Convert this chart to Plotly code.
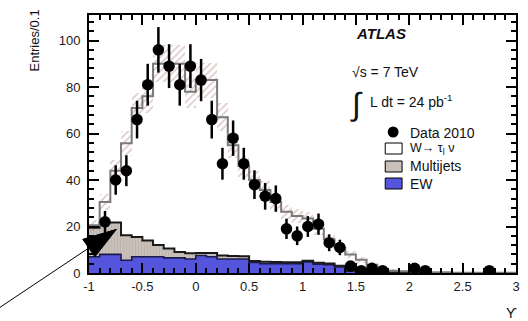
import numpy as np
import plotly.graph_objects as go

# ---- histogram content, 0.1-wide bins from -1 to 3 ----
bin_lo, bin_hi, bin_w = -1.0, 3.0, 0.1
edges = np.round(np.arange(bin_lo, bin_hi + 1e-9, bin_w), 2)
centers = np.round(edges[:-1] + bin_w / 2, 3)

ew = [7, 8, 8, 5.5, 7, 7, 7, 6.5, 6.5, 6, 7.5, 7, 6, 6, 6, 4.5, 4, 4, 4, 4,
      4.8, 3.8, 3.6, 2.6, 0.8, 0.3, 0.2, 0.1, 0, 0, 0, 0, 0, 0, 0, 0, 0, 0, 0, 0]
multijets = [12.5, 13.7, 13.7, 10.7, 8.5, 7, 5, 4, 2.5, 2.5, 1.1, 1.6, 1.5, 1.3, 1.2,
             0.7, 0.8, 0.7, 0.6, 0.6, 0.5, 0.6, 0.5, 0.5, 0.5, 0.5, 0.4, 0.3, 0.3, 0.2,
             0.2, 0.1, 0.1, 0.1, 0, 0, 0, 0, 0, 0]
w_taunu = [1.0, 8.8, 22.3, 39.6, 55.5, 62, 78, 79.5, 81, 69.5, 74.4, 74.4, 59.5, 47.7,
           38.8, 34.8, 30.9, 25.8, 21.8, 19.9, 18.2, 14.6, 10.4, 7.9, 6.7, 4.9, 3.0, 1.1,
           0.7, 0.5, 0.3, 0.2, 0.1, 0.1, 0.1, 0.1, 0.1, 0.1, 0.1, 0.1]
# half-width of the systematic band around the total prediction
band_half = [2.5, 3.5, 4.5, 5.5, 6.5, 7, 8, 8, 8, 7, 7.5, 7.5, 6, 5.5, 4.5, 4, 3.8, 3.5,
             3, 3, 2.8, 2.5, 2.2, 2, 1.6, 1.3, 1.1, 0.8, 0.6, 0.5, 0.4, 0.3, 0.2, 0.2,
             0.2, 0.2, 0.2, 0.2, 0.2, 0.2]

# ---- data 2010 ----
data_x = [-0.85, -0.75, -0.65, -0.55, -0.45, -0.35, -0.25, -0.15, -0.05, 0.05, 0.15,
          0.25, 0.35, 0.45, 0.55, 0.65, 0.75, 0.85, 0.95, 1.05, 1.15, 1.25, 1.35,
          1.45, 1.55, 1.65, 1.75, 2.05, 2.15, 2.75]
data_y = [22, 40, 44, 66, 81, 96, 89, 81, 89, 83, 66, 47, 58, 47, 38, 33, 32, 19, 16,
          20, 21, 13, 11, 3, 1, 2, 1, 2, 1, 1]

x_ticks = [-1, -0.5, 0, 0.5, 1, 1.5, 2, 2.5, 3]
x_ticktext = ["-1", "-0.5", "0", "0.5", "1", "1.5", "2", "2.5", "3"]
y_ticks = [0, 20, 40, 60, 80, 100]

EW_COLOR = "#5454dc"
MJ_COLOR = "#c9c1b9"
FONT = "Liberation Sans, Arial, sans-serif"

ew_a = np.array(ew, float)
mj_a = np.array(multijets, float)
w_a = np.array(w_taunu, float)
stack_mj = ew_a + mj_a
stack_tot = stack_mj + w_a
band = np.array(band_half, float)


def step(vals):
    v = list(vals)
    return list(edges), v + [v[-1]]


fig = go.Figure()

fig.add_trace(go.Bar(x=centers, y=ew_a, width=bin_w, marker=dict(color=EW_COLOR, line_width=0),
                     showlegend=False))
fig.add_trace(go.Bar(x=centers, y=mj_a, base=ew_a, width=bin_w,
                     marker=dict(color=MJ_COLOR, line_width=0,
                                 pattern=dict(shape="|", fgcolor="#b3aba3", bgcolor=MJ_COLOR,
                                              size=3, solidity=0.3)),
                     showlegend=False))

sx, sy = step(ew_a)
fig.add_trace(go.Scatter(x=sx, y=sy, mode="lines", line=dict(color="#1c1c4a", width=1.6, shape="hv"),
                         showlegend=False, hoverinfo="skip"))
sx, sy = step(stack_mj)
fig.add_trace(go.Scatter(x=sx, y=sy, mode="lines", line=dict(color="#1a1a1a", width=2, shape="hv"),
                         showlegend=False, hoverinfo="skip"))
sx, sy = step(stack_tot)
fig.add_trace(go.Scatter(x=sx, y=sy, mode="lines", line=dict(color="#7a7a7a", width=2, shape="hv"),
                         showlegend=False, hoverinfo="skip"))

# hatched systematic band drawn over the total line
fig.add_trace(go.Bar(x=centers, y=2 * band, base=stack_tot - band, width=bin_w,
                     marker=dict(color="rgba(0,0,0,0)", line_width=0,
                                 pattern=dict(shape="/", fgcolor="#a86a6a", size=5,
                                              solidity=0.32, fillmode="overlay")),
                     opacity=0.75, showlegend=False))

fig.add_trace(go.Scatter(x=data_x, y=data_y, mode="markers",
                         marker=dict(color="black", size=11.5),
                         error_y=dict(type="data", array=np.sqrt(data_y), thickness=2.5,
                                      width=0, color="black"),
                         showlegend=False))

# ---- layout geometry (pixels) ----
W, H = 528, 321
L, R, T, B = 89, 8, 15, 48
PW, PH = W - L - R, H - T - B


def paper(px, py):
    return (px - L) / PW, (H - B - py) / PH


shapes = []
annotations = []


def text(px, py, s, size=14, xanchor="left", **kw):
    xp, yp = paper(px, py)
    annotations.append(dict(x=xp, y=yp, xref="paper", yref="paper", text=s, showarrow=False,
                            xanchor=xanchor, yanchor="middle",
                            font=dict(family=FONT, size=size, color="#111"), **kw))


def rect(x0, y0, x1, y1, fill):
    a, b = paper(x0, y0)
    c, d = paper(x1, y1)
    shapes.append(dict(type="rect", xref="paper", yref="paper", x0=a, y0=d, x1=c, y1=b,
                       fillcolor=fill, line=dict(color="black", width=1)))


# header texts
text(356, 33, "<b><i>ATLAS</i></b>", size=15)
text(352, 72, "√s = 7 TeV", size=14)
text(350, 104, "∫", size=32)
text(371, 101, "L dt = 24 pb<sup>-1</sup>", size=14)

# legend
cx, cy = paper(396, 132)
rx, ry = 5.5 / PW, 5.5 / PH
shapes.append(dict(type="circle", xref="paper", yref="paper", x0=cx - rx, x1=cx + rx,
                   y0=cy - ry, y1=cy + ry, fillcolor="black", line=dict(color="black", width=0)))
rect(388, 143, 405, 154, "white")
rect(388, 161, 405, 172, MJ_COLOR)
rect(388, 178, 405, 189, EW_COLOR)
text(411, 133, "Data 2010", size=14)
text(411, 149, "W→ τ<sub>l</sub> ν", size=12.5)
text(411, 166, "Multijets", size=14)
text(411, 184, "EW", size=14)

# axis titles
text(34, 41, "Entries/0.1", size=13, xanchor="center", textangle=-90)
text(515, 313, "ϒ", size=14, xanchor="center")

# arrow pointing at the low-Υ multijet region
tail = paper(-1, 307.4)
base_mid = paper(88.8, 248)
tip = paper(116.7, 229.3)
c1 = paper(82.7, 239.3)
c2 = paper(95, 256.7)
shapes.append(dict(type="line", xref="paper", yref="paper", x0=tail[0], y0=tail[1],
                   x1=base_mid[0], y1=base_mid[1], line=dict(color="black", width=1)))
shapes.append(dict(type="path", xref="paper", yref="paper",
                   path=f"M{tip[0]},{tip[1]} L{c1[0]},{c1[1]} L{c2[0]},{c2[1]} Z",
                   fillcolor="black", line=dict(color="black", width=1)))

axis_common = dict(showline=True, linecolor="black", linewidth=2, mirror="allticks",
                   ticks="inside", tickcolor="black", tickwidth=1.5, showgrid=False,
                   zeroline=False, tickfont=dict(family=FONT, size=13, color="#1a1a1a"))

fig.update_layout(
    width=W, height=H, margin=dict(l=L, r=R, t=T, b=B),
    paper_bgcolor="white", plot_bgcolor="white",
    barmode="overlay", bargap=0, showlegend=False,
    xaxis=dict(range=[bin_lo, bin_hi], tickvals=x_ticks, ticktext=x_ticktext, ticklen=10,
               minor=dict(dtick=0.1, ticklen=5, ticks="inside", tickcolor="black", tickwidth=1.5),
               **axis_common),
    yaxis=dict(range=[0, 111], tickvals=y_ticks, ticklen=10, ticklabelstandoff=4,
               minor=dict(dtick=4, ticklen=5, ticks="inside", tickcolor="black", tickwidth=1.5),
               **axis_common),
    shapes=shapes, annotations=annotations,
)

fig.write_html("out.html")
